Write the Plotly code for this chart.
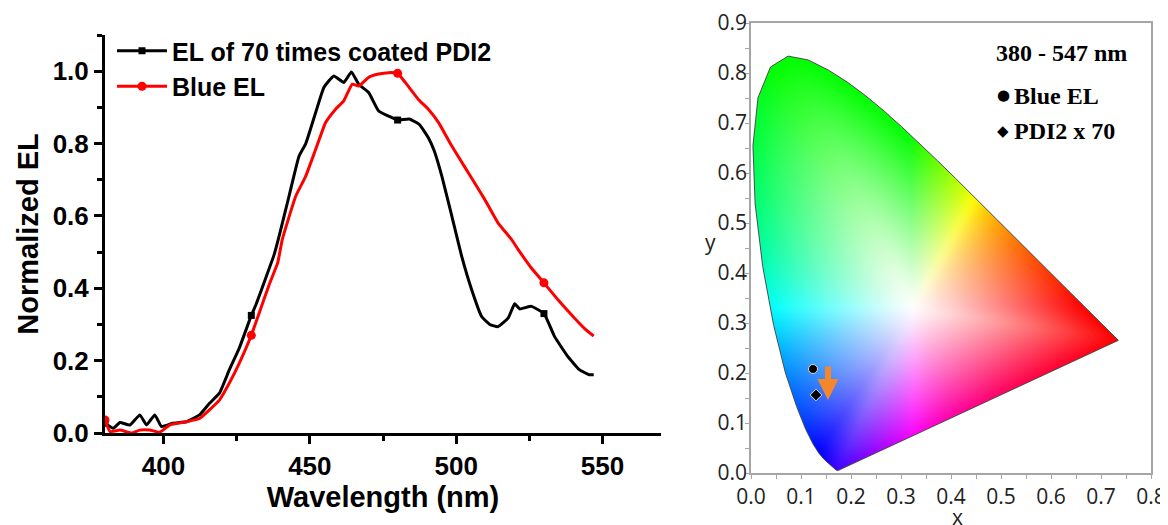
import base64
import struct
import zlib

import numpy as np
import plotly.graph_objects as go

# ---------------- data: left panel (EL spectra) ----------------
wl_pdi2 = [380, 382.8, 385.1, 388.5, 391.9, 394.2, 397.0, 399.3, 403.2, 407.8, 412.3,
           415.7, 419.1, 422.5, 425.9, 430, 431.6, 435.0, 437.8, 439.5, 442.9, 446.3,
           448.6, 452.0, 454.8, 458.2, 461.6, 464.2, 466.7, 470.1, 473.5, 476.9, 480,
           484.0, 487.5, 490.5, 492.5, 495.1, 498.5, 501.9, 505.3, 508.7, 511.5, 514.3,
           517.8, 520.0, 521.7, 525.7, 530, 533.6, 538.2, 542.1, 545.5, 547]
el_pdi2 = [0.027, 0.013, 0.029, 0.022, 0.05, 0.022, 0.05, 0.018, 0.027, 0.031, 0.05,
           0.082, 0.11, 0.175, 0.235, 0.325, 0.355, 0.430, 0.493, 0.544, 0.655, 0.765,
           0.80, 0.886, 0.955, 0.987, 0.969, 0.998, 0.964, 0.941, 0.89, 0.876, 0.865,
           0.868, 0.852, 0.816, 0.78, 0.71, 0.60, 0.488, 0.396, 0.322, 0.300, 0.294,
           0.318, 0.357, 0.343, 0.35, 0.33, 0.267, 0.211, 0.175, 0.161, 0.161]

wl_blue = [380, 381.7, 385.1, 389.1, 391.9, 395.3, 398.7, 402.1, 407.8, 412.3, 415.7,
           419.1, 422.5, 425.9, 430, 432.7, 436.1, 439.0, 440.6, 445.2, 448.6, 452.0,
           455.4, 458.8, 461.6, 464.5, 466.7, 470.1, 473.5, 476.9, 480, 482.6, 487.1,
           490.5, 494.0, 498.5, 504.1, 509.8, 514.3, 518.9, 521.2, 525.7, 530, 534.8,
           540.4, 544.0, 547]
el_blue = [0.036, 0.004, 0.008, 0.0, 0.008, 0.008, 0.002, 0.022, 0.031, 0.04, 0.064,
           0.091, 0.138, 0.193, 0.27, 0.332, 0.410, 0.47, 0.535, 0.655, 0.71, 0.784,
           0.858, 0.895, 0.918, 0.964, 0.959, 0.983, 0.992, 0.996, 0.994, 0.969, 0.922,
           0.895, 0.858, 0.793, 0.72, 0.645, 0.581, 0.535, 0.507, 0.456, 0.415, 0.368,
           0.318, 0.288, 0.268]

marker_wl = [380, 430, 480, 530]

x_ticks_left = [400, 450, 500, 550]
y_ticks_left = [0.0, 0.2, 0.4, 0.6, 0.8, 1.0]

# ---------------- data: right panel (CIE 1931) ----------------
cie_names = ["Blue EL", "PDI2 x 70"]
cie_x = [0.124, 0.130]
cie_y = [0.208, 0.156]
cie_symbols = ["circle", "diamond"]
arrow_from = (0.154, 0.216)
arrow_to = (0.154, 0.146)

locus_x = [0.1741, 0.1740, 0.1738, 0.1736, 0.1733, 0.1730, 0.1726, 0.1721, 0.1714, 0.1703,
           0.1689, 0.1669, 0.1644, 0.1611, 0.1566, 0.1510, 0.1440, 0.1355, 0.1241, 0.1096,
           0.0913, 0.0687, 0.0454, 0.0235, 0.0082, 0.0039, 0.0139, 0.0389, 0.0743, 0.1142,
           0.1547, 0.1929, 0.2296, 0.2658, 0.3016, 0.3373, 0.3731, 0.4087, 0.4441, 0.4788,
           0.5125, 0.5448, 0.5752, 0.6029, 0.6270, 0.6482, 0.6658, 0.6801, 0.6915, 0.7006,
           0.7079, 0.7140, 0.7190, 0.7230, 0.7260, 0.7283, 0.7300, 0.7311, 0.7320, 0.7327,
           0.7334, 0.7340, 0.7344, 0.7346, 0.7347]
locus_y = [0.0050, 0.0050, 0.0049, 0.0049, 0.0048, 0.0048, 0.0048, 0.0048, 0.0051, 0.0058,
           0.0069, 0.0086, 0.0109, 0.0138, 0.0177, 0.0227, 0.0297, 0.0399, 0.0578, 0.0868,
           0.1327, 0.2007, 0.2950, 0.4127, 0.5384, 0.6548, 0.7502, 0.8120, 0.8338, 0.8262,
           0.8059, 0.7816, 0.7543, 0.7243, 0.6923, 0.6589, 0.6245, 0.5896, 0.5547, 0.5202,
           0.4866, 0.4544, 0.4242, 0.3965, 0.3725, 0.3514, 0.3340, 0.3197, 0.3083, 0.2993,
           0.2920, 0.2859, 0.2809, 0.2770, 0.2740, 0.2717, 0.2700, 0.2689, 0.2680, 0.2673,
           0.2666, 0.2660, 0.2656, 0.2654, 0.2653]

x_ticks_cie = [0.0, 0.1, 0.2, 0.3, 0.4, 0.5, 0.6, 0.7, 0.8]
y_ticks_cie = [0.0, 0.1, 0.2, 0.3, 0.4, 0.5, 0.6, 0.7, 0.8, 0.9]


# ---------------- background colour image of the CIE gamut ----------------
M_XYZ_RGB = np.array([[3.2406, -1.5372, -0.4986],
                      [-0.9689, 1.8758, 0.0415],
                      [0.0557, -0.2040, 1.0570]])


def edge_rgb(x, y):
    xyz = np.stack([x, y, 1.0 - x - y], axis=-1)
    rgb = np.clip(xyz @ M_XYZ_RGB.T, 0, None)
    mx = rgb.max(axis=-1, keepdims=True)
    mx[mx == 0] = 1
    return np.power(rgb / mx, 1 / 1.3)


def blur(img, sigma=5.0):
    r = int(3 * sigma)
    k = np.exp(-0.5 * (np.arange(-r, r + 1) / sigma) ** 2)
    k /= k.sum()
    out = np.pad(img, ((r, r), (r, r), (0, 0)), mode="edge")
    out = np.apply_along_axis(lambda v: np.convolve(v, k, mode="valid"), 0, out)
    out = np.apply_along_axis(lambda v: np.convolve(v, k, mode="valid"), 1, out)
    return out


def cie_background(width=400, height=450, xmax=0.8, ymax=0.9, white=(0.325, 0.33)):
    xs = (np.arange(width) + 0.5) / width * xmax
    ys = ymax - (np.arange(height) + 0.5) / height * ymax
    X, Y = np.meshgrid(xs, ys)
    px = np.array(locus_x + [locus_x[0]])
    py = np.array(locus_y + [locus_y[0]])
    inside = np.zeros(X.shape, dtype=bool)
    for i in range(len(px) - 1):
        x1, y1, x2, y2 = px[i], py[i], px[i + 1], py[i + 1]
        if y1 == y2:
            continue
        cond = ((y1 > Y) != (y2 > Y))
        xint = x1 + (Y - y1) * (x2 - x1) / (y2 - y1)
        inside ^= cond & (X < xint)
    wx, wy = white
    dx, dy = X - wx, Y - wy
    tmin = np.full(X.shape, np.inf)
    for i in range(len(px) - 1):
        ax_, ay_ = px[i], py[i]
        ex, ey = px[i + 1] - ax_, py[i + 1] - ay_
        denom = dx * ey - dy * ex
        ok = np.abs(denom) > 1e-12
        dsafe = np.where(ok, denom, 1.0)
        qx, qy = ax_ - wx, ay_ - wy
        t = (qx * ey - qy * ex) / dsafe
        u = (qx * dy - qy * dx) / dsafe
        hit = ok & (t > 0) & (u >= -1e-9) & (u <= 1 + 1e-9)
        tmin = np.where(hit & (t < tmin), t, tmin)
    tmin = np.where(np.isfinite(tmin), tmin, 1e6)
    s = np.clip(1.0 / tmin, 0, 1)
    bx, by = wx + tmin * dx, wy + tmin * dy
    edge = edge_rgb(bx, by)
    sat = (s ** 1.1)[..., None]
    rgb = 1.0 - sat * (1.0 - edge)
    rgb = blur(rgb, 4.0)
    rgba = np.zeros((height, width, 4), dtype=np.uint8)
    rgba[..., :3] = np.clip(rgb * 255, 0, 255).astype(np.uint8)
    rgba[..., 3] = np.where(inside, 255, 0).astype(np.uint8)
    return rgba


def png_uri(rgba):
    h, w, _ = rgba.shape
    raw = b"".join(b"\x00" + rgba[r].tobytes() for r in range(h))

    def chunk(tag, data):
        c = struct.pack(">I", len(data)) + tag + data
        return c + struct.pack(">I", zlib.crc32(tag + data) & 0xFFFFFFFF)

    png = b"\x89PNG\r\n\x1a\n"
    png += chunk(b"IHDR", struct.pack(">IIBBBBB", w, h, 8, 6, 0, 0, 0))
    png += chunk(b"IDAT", zlib.compress(raw, 9))
    png += chunk(b"IEND", b"")
    return "data:image/png;base64," + base64.b64encode(png).decode()


# page body has an 8px margin: work in screenshot pixels and convert
OFF = 8
W, H = 1168 - OFF, 525 - OFF


def fx(px):
    return (px - OFF) / W


def fy(py):
    return 1 - (py - OFF) / H


fig = go.Figure()

# ---- left panel traces ----
idx_p = [wl_pdi2.index(w) for w in marker_wl]
idx_b = [wl_blue.index(w) for w in marker_wl]

fig.add_trace(go.Scatter(x=wl_pdi2, y=el_pdi2, mode="lines",
                         line=dict(color="black", width=3, shape="spline", smoothing=0.4),
                         showlegend=False, xaxis="x", yaxis="y"))
fig.add_trace(go.Scatter(x=[wl_pdi2[i] for i in idx_p], y=[el_pdi2[i] for i in idx_p], mode="markers",
                         marker=dict(symbol="square", size=7, color="black"),
                         showlegend=False, xaxis="x", yaxis="y"))
fig.add_trace(go.Scatter(x=wl_blue, y=el_blue, mode="lines",
                         line=dict(color="#ff0000", width=3, shape="spline", smoothing=0.4),
                         showlegend=False, xaxis="x", yaxis="y"))
fig.add_trace(go.Scatter(x=[wl_blue[i] for i in idx_b], y=[el_blue[i] for i in idx_b], mode="markers",
                         marker=dict(symbol="circle", size=9, color="#ff0000"),
                         showlegend=False, xaxis="x", yaxis="y"))
# legend entries
fig.add_trace(go.Scatter(x=[None], y=[None], mode="lines+markers", name="EL of 70 times coated PDI2",
                         line=dict(color="black", width=3),
                         marker=dict(symbol="square", size=7, color="black"), xaxis="x", yaxis="y"))
fig.add_trace(go.Scatter(x=[None], y=[None], mode="lines+markers", name="Blue EL",
                         line=dict(color="#ff0000", width=3),
                         marker=dict(symbol="circle", size=9, color="#ff0000"), xaxis="x", yaxis="y"))

# ---- right panel traces ----
fig.add_trace(go.Scatter(x=locus_x + [locus_x[0]], y=locus_y + [locus_y[0]], mode="lines",
                         line=dict(color="#4d4d4d", width=1), showlegend=False,
                         hoverinfo="skip", xaxis="x2", yaxis="y2"))
for nm, cx, cy, sym in zip(cie_names, cie_x, cie_y, cie_symbols):
    fig.add_trace(go.Scatter(x=[cx], y=[cy], mode="markers", name=nm,
                             marker=dict(symbol=sym, size=9, color="black",
                                         line=dict(color="#d9d9d9", width=1)),
                             showlegend=False, xaxis="x2", yaxis="y2"))

fig.add_layout_image(dict(source=png_uri(cie_background()), xref="x2", yref="y2",
                          x=0, y=0.9, sizex=0.8, sizey=0.9, sizing="stretch",
                          layer="below", xanchor="left", yanchor="top"))

bold = dict(family="Arial, Liberation Sans, sans-serif", color="black", weight="bold")
cie_font = dict(family="Open Sans, Noto Sans, sans-serif", color="#222222", size=21)

fig.update_layout(
    width=W, height=H,
    margin=dict(l=0, r=0, t=0, b=0),
    paper_bgcolor="white", plot_bgcolor="white",
    showlegend=True,
    legend=dict(x=fx(112), y=fy(28), xanchor="left", yanchor="top",
                font=dict(size=25, **bold), bgcolor="rgba(0,0,0,0)",
                tracegroupgap=0, itemwidth=50),
    xaxis=dict(domain=[fx(105), fx(661)], range=[380, 570], tickvals=x_ticks_left,
               ticks="outside", ticklen=8, tickwidth=3, tickcolor="black",
               showline=True, linewidth=3, linecolor="black", showgrid=False, zeroline=False,
               minor=dict(ticks="outside", ticklen=5, tickwidth=3, tickcolor="black", dtick=25, tick0=375),
               tickfont=dict(size=26, **bold),
               title=dict(text="Wavelength (nm)", font=dict(size=29, **bold), standoff=6),
               anchor="y", automargin=False),
    yaxis=dict(domain=[fy(433), fy(35)], range=[0, 1.1], tickvals=y_ticks_left,
               tickformat=".1f",
               ticks="outside", ticklen=8, tickwidth=3, tickcolor="black",
               showline=True, linewidth=3, linecolor="black", showgrid=False, zeroline=False,
               minor=dict(ticks="outside", ticklen=5, tickwidth=3, tickcolor="black", dtick=0.1, tick0=0),
               tickfont=dict(size=26, **bold),
               title=dict(text="Normalized EL", font=dict(size=29, **bold), standoff=6),
               anchor="x", automargin=False),
    xaxis2=dict(domain=[fx(751), fx(1151)], range=[0, 0.8], tickvals=x_ticks_cie,
                tickformat=".1f", ticks="outside", ticklen=4, tickwidth=1, tickcolor="#a6a6a6",
                minor=dict(ticks="outside", ticklen=4, tickwidth=1, tickcolor="#a6a6a6", dtick=0.05, tick0=0),
                showline=True, mirror=True, linewidth=1.5, linecolor="#a6a6a6",
                showgrid=False, zeroline=False, tickfont=cie_font, anchor="y2", automargin=False),
    yaxis2=dict(domain=[fy(473), fy(23)], range=[0, 0.9], tickvals=y_ticks_cie,
                tickformat=".1f", ticks="outside", ticklen=4, tickwidth=1, tickcolor="#a6a6a6",
                minor=dict(ticks="outside", ticklen=4, tickwidth=1, tickcolor="#a6a6a6", dtick=0.05, tick0=0),
                showline=True, mirror=True, linewidth=1.5, linecolor="#a6a6a6",
                showgrid=False, zeroline=False, tickfont=cie_font, ticklabelstandoff=-6,
                anchor="x2", automargin=False),
)

# arrow (PDI2 colour shift)
fig.add_annotation(xref="x2", yref="y2", axref="x2", ayref="y2",
                   x=arrow_to[0], y=arrow_to[1], ax=arrow_from[0], ay=arrow_from[1],
                   text="", showarrow=True, arrowhead=2, arrowsize=0.7, arrowwidth=6,
                   arrowcolor="#f5862a")

# axis letters
fig.add_annotation(xref="paper", yref="paper", x=fx(957), y=fy(517), text="x",
                   showarrow=False, font=cie_font, xanchor="center", yanchor="middle")
fig.add_annotation(xref="paper", yref="paper", x=fx(710), y=fy(242), text="y",
                   showarrow=False, font=cie_font, xanchor="center", yanchor="middle")

# legend box text on the CIE panel
serif_b = dict(family="Liberation Serif, Times New Roman, serif", color="black", size=24, weight="bold")
fig.add_annotation(xref="paper", yref="paper", x=fx(1061), y=fy(53), text="380 - 547 nm",
                   showarrow=False, font=serif_b, xanchor="center", yanchor="middle")
fig.add_annotation(xref="paper", yref="paper", x=fx(1012), y=fy(96), text=cie_names[0],
                   showarrow=False, font=serif_b, xanchor="left", yanchor="middle")
fig.add_annotation(xref="paper", yref="paper", x=fx(1012), y=fy(131), text=cie_names[1],
                   showarrow=False, font=serif_b, xanchor="left", yanchor="middle")
fig.add_annotation(xref="paper", yref="paper", x=fx(1003), y=fy(95), text="●",
                   showarrow=False, font=dict(family="DejaVu Sans", size=15, color="black"),
                   xanchor="center", yanchor="middle")
fig.add_annotation(xref="paper", yref="paper", x=fx(1003), y=fy(131), text="◆",
                   showarrow=False, font=dict(family="DejaVu Sans", size=15, color="black"),
                   xanchor="center", yanchor="middle")

fig.write_html("out.html")
